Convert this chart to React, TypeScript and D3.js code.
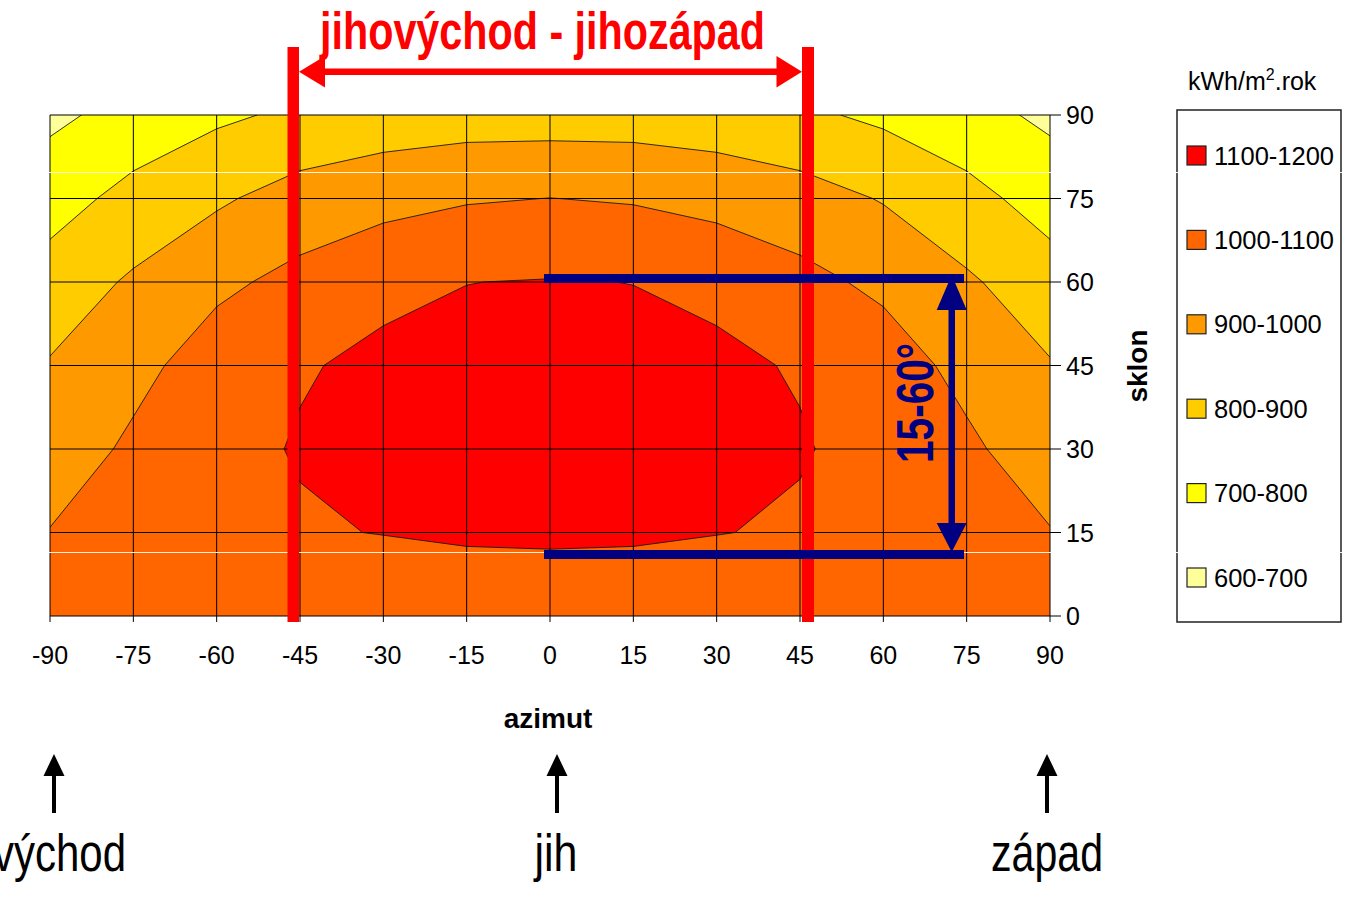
import React, { useRef, useEffect } from 'react';
import * as d3 from 'd3';

const WIDTH = 1351;
const HEIGHT = 897;

// azimut (deg), columns of the grid
const azimuths = [-90, -75, -60, -45, -30, -15, 0, 15, 30, 45, 60, 75, 90];
// sklon (deg), rows of the grid
const tilts = [0, 15, 30, 45, 60, 75, 90];

// kWh/m2.rok, one row per tilt (0 -> 90), one value per azimuth (-90 -> 90)
const irradiation = [
    [1040, 1040, 1040, 1040, 1040, 1040, 1040, 1040, 1040, 1040, 1040, 1040, 1040],
    [1004, 1045, 1070, 1094, 1102, 1112, 1115, 1112, 1102, 1093, 1070, 1045, 1005],
    [940, 1019, 1083, 1104, 1130, 1145, 1150, 1145, 1130, 1104, 1082, 1019, 941],
    [907, 970, 1050, 1096, 1110, 1125, 1135, 1125, 1110, 1096, 1050, 970, 906],
    [845, 913, 979, 1028, 1089, 1099, 1104, 1099, 1089, 1028, 979, 913, 845],
    [757, 833, 886, 941, 963, 992, 1001, 992, 963, 941, 894, 833, 757],
    [680, 733, 783, 818, 849, 855, 855, 855, 849, 818, 781, 733, 681],
];

// legend, top to bottom
const bandLabels = ['1100-1200', '1000-1100', '900-1000', '800-900', '700-800', '600-700'];
const bandLower = [1100, 1000, 900, 800, 700, 600];
const bandColors = ['#FF0000', '#FF6600', '#FF9900', '#FFCC00', '#FFFF00', '#FFFF99'];

const directionLabels = ['východ', 'jih', 'západ'];
const directionAzimuths = [-90, 0, 90];

const NARROW = '"Liberation Sans Narrow", "Arial Narrow", "Liberation Sans", Arial, sans-serif';
const SANS = '"Liberation Sans", Arial, sans-serif';

export default function App() {
    const svgRef = useRef<SVGSVGElement>(null);

    useEffect(() => {
        if (!svgRef.current) return;
        const svg = d3.select(svgRef.current);
        svg.selectAll('*').remove();

        const x = d3.scaleLinear().domain([-90, 90]).range([50, 1050]);
        const y = d3.scaleLinear().domain([0, 90]).range([616, 115]);

        const n = azimuths.length;
        const m = tilts.length;
        const azStep = azimuths[1] - azimuths[0];
        const tiltStep = tilts[1] - tilts[0];

        // grid cell coords from d3.contours -> data coords (sample i sits at i + 0.5)
        const toAz = (c: number) => azimuths[0] + (c - 0.5) * azStep;
        const toTilt = (r: number) => tilts[0] + (r - 0.5) * tiltStep;
        const path = d3.geoPath(d3.geoTransform({
            point(px: number, py: number) {
                (this as any).stream.point(x(toAz(px)), y(toTilt(py)));
            }
        }));

        const thresholds = bandLower.slice().reverse();
        const color = d3.scaleOrdinal<number, string>()
            .domain(bandLower)
            .range(bandColors);

        const contours = d3.contours()
            .size([n, m])
            .thresholds(thresholds)(irradiation.flat());

        svg.append('defs').append('clipPath').attr('id', 'plot-clip')
            .append('rect')
            .attr('x', x(-90)).attr('y', y(90))
            .attr('width', x(90) - x(-90)).attr('height', y(0) - y(90));

        const plot = svg.append('g').attr('clip-path', 'url(#plot-clip)');
        plot.selectAll('path.band')
            .data(contours).enter().append('path')
            .attr('class', 'band')
            .attr('d', d => path(d as any))
            .attr('fill', d => color(d.value))
            .attr('stroke', '#1a1a1a').attr('stroke-width', 0.9)
            .attr('stroke-linejoin', 'round');

        // Grid
        const grid = svg.append('g');
        grid.selectAll('.vx').data(azimuths).enter().append('line')
            .attr('x1', d => x(d)).attr('x2', d => x(d))
            .attr('y1', y(90)).attr('y2', y(0))
            .attr('stroke', '#000').attr('stroke-width', 1);
        grid.selectAll('.hy').data(tilts).enter().append('line')
            .attr('x1', x(-90)).attr('x2', x(90))
            .attr('y1', d => y(d)).attr('y2', d => y(d))
            .attr('stroke', '#000').attr('stroke-width', 1);

        // Ticks + labels
        const axes = svg.append('g');
        axes.selectAll('.xt').data(azimuths).enter().append('line')
            .attr('x1', d => x(d)).attr('x2', d => x(d))
            .attr('y1', y(0)).attr('y2', y(0) + 6)
            .attr('stroke', '#000');
        axes.selectAll('.xl').data(azimuths).enter().append('text')
            .attr('x', d => x(d)).attr('y', 664)
            .attr('text-anchor', 'middle')
            .attr('font-family', SANS).attr('font-size', 25)
            .text(d => String(d));
        axes.selectAll('.yt').data(tilts).enter().append('line')
            .attr('x1', x(90)).attr('x2', x(90) + 11)
            .attr('y1', d => y(d)).attr('y2', d => y(d))
            .attr('stroke', '#000');
        axes.selectAll('.yl').data(tilts).enter().append('text')
            .attr('x', 1066).attr('y', d => y(d) + 9)
            .attr('font-family', SANS).attr('font-size', 25)
            .text(d => String(d));

        axes.append('text')
            .attr('x', 548).attr('y', 728)
            .attr('text-anchor', 'middle')
            .attr('font-family', SANS).attr('font-size', 28).attr('font-weight', 'bold')
            .text('azimut');
        axes.append('text')
            .attr('transform', 'translate(1147,366) rotate(-90)')
            .attr('text-anchor', 'middle')
            .attr('font-family', SANS).attr('font-size', 28).attr('font-weight', 'bold')
            .text('sklon');

        // Legend
        const legend = svg.append('g');
        const title = legend.append('text')
            .attr('x', 1188).attr('y', 90)
            .attr('font-family', SANS).attr('font-size', 25);
        title.append('tspan').text('kWh/m');
        title.append('tspan').attr('font-size', 16).attr('dy', -10).text('2');
        title.append('tspan').attr('dy', 10).text('.rok');

        legend.append('rect')
            .attr('x', 1177).attr('y', 110)
            .attr('width', 164).attr('height', 512)
            .attr('fill', '#fff').attr('stroke', '#222').attr('stroke-width', 1.5);
        const rowY = d3.scaleLinear().domain([0, bandLabels.length - 1]).range([155.5, 577.5]);
        const items = legend.selectAll('.li').data(bandLabels).enter().append('g')
            .attr('transform', (_, i) => `translate(0,${rowY(i)})`);
        items.append('rect')
            .attr('x', 1187).attr('y', -9.5).attr('width', 19).attr('height', 19)
            .attr('fill', (_, i) => bandColors[i]).attr('stroke', '#222').attr('stroke-width', 1.2);
        items.append('text')
            .attr('x', 1214).attr('y', 9)
            .attr('font-family', SANS).attr('font-size', 25.5)
            .text(d => d);

        // scan artefact lines
        svg.selectAll('.art').data([172.5, 552.5]).enter().append('line')
            .attr('x1', 0).attr('x2', WIDTH)
            .attr('y1', d => d).attr('y2', d => d)
            .attr('stroke', '#fff').attr('stroke-width', 1).attr('opacity', 0.9);

        // Red range annotation: jihovýchod - jihozápad
        const red = svg.append('g').attr('fill', '#FF0000');
        red.append('rect').attr('x', 287.5).attr('y', 47).attr('width', 11.5).attr('height', 575);
        red.append('rect').attr('x', 802).attr('y', 47).attr('width', 12).attr('height', 575);
        red.append('rect').attr('x', 318).attr('y', 68.5).attr('width', 466).attr('height', 6.5);
        red.append('polygon').attr('points', '299,71.7 325,56 325,87.5');
        red.append('polygon').attr('points', '802,71.7 776.5,56 776.5,87.5');
        red.append('text')
            .attr('x', 320).attr('y', 49)
            .attr('font-family', NARROW).attr('font-size', 51).attr('font-weight', 'bold')
            .attr('textLength', 445).attr('lengthAdjust', 'spacingAndGlyphs')
            .text('jihovýchod - jihozápad');

        // Navy tilt range annotation
        const navy = svg.append('g').attr('fill', '#000080');
        navy.append('rect').attr('x', 544).attr('y', 274).attr('width', 420).attr('height', 9);
        navy.append('rect').attr('x', 544).attr('y', 550).attr('width', 420).attr('height', 9);
        navy.append('rect').attr('x', 948.5).attr('y', 305).attr('width', 6.5).attr('height', 222);
        navy.append('polygon').attr('points', '951.7,275 936.7,310 966.7,310');
        navy.append('polygon').attr('points', '951.7,552 936.7,523 966.7,523');
        navy.append('text')
            .attr('transform', 'translate(933,403) rotate(-90)')
            .attr('text-anchor', 'middle')
            .attr('font-family', NARROW).attr('font-size', 51).attr('font-weight', 'bold')
            .attr('textLength', 120).attr('lengthAdjust', 'spacingAndGlyphs')
            .text('15-60°');

        // Direction arrows
        const dirX = [54, 557, 1047];
        const dirWidths = [133, 43, 112];
        const dirs = svg.append('g');
        directionLabels.forEach((label, i) => {
            const cx = dirX[i];
            dirs.append('rect').attr('x', cx - 2).attr('y', 772).attr('width', 4).attr('height', 41).attr('fill', '#000');
            dirs.append('polygon')
                .attr('points', `${cx},754 ${cx - 10.5},776 ${cx + 10.5},776`)
                .attr('fill', '#000');
            const t = dirs.append('text')
                .attr('y', 871)
                .attr('font-family', NARROW).attr('font-size', 51)
                .attr('textLength', dirWidths[i]).attr('lengthAdjust', 'spacingAndGlyphs')
                .attr('data-azimut', directionAzimuths[i])
                .text(label);
            if (i === 0) t.attr('x', 126).attr('text-anchor', 'end');
            else t.attr('x', cx - (i === 1 ? 1 : 0)).attr('text-anchor', 'middle');
        });
    }, []);

    return (
        <div style={{ position: 'absolute', left: 0, top: 0 }}>
            <svg ref={svgRef} width={WIDTH} height={HEIGHT} style={{ display: 'block', background: '#fff' }} />
        </div>
    );
}
